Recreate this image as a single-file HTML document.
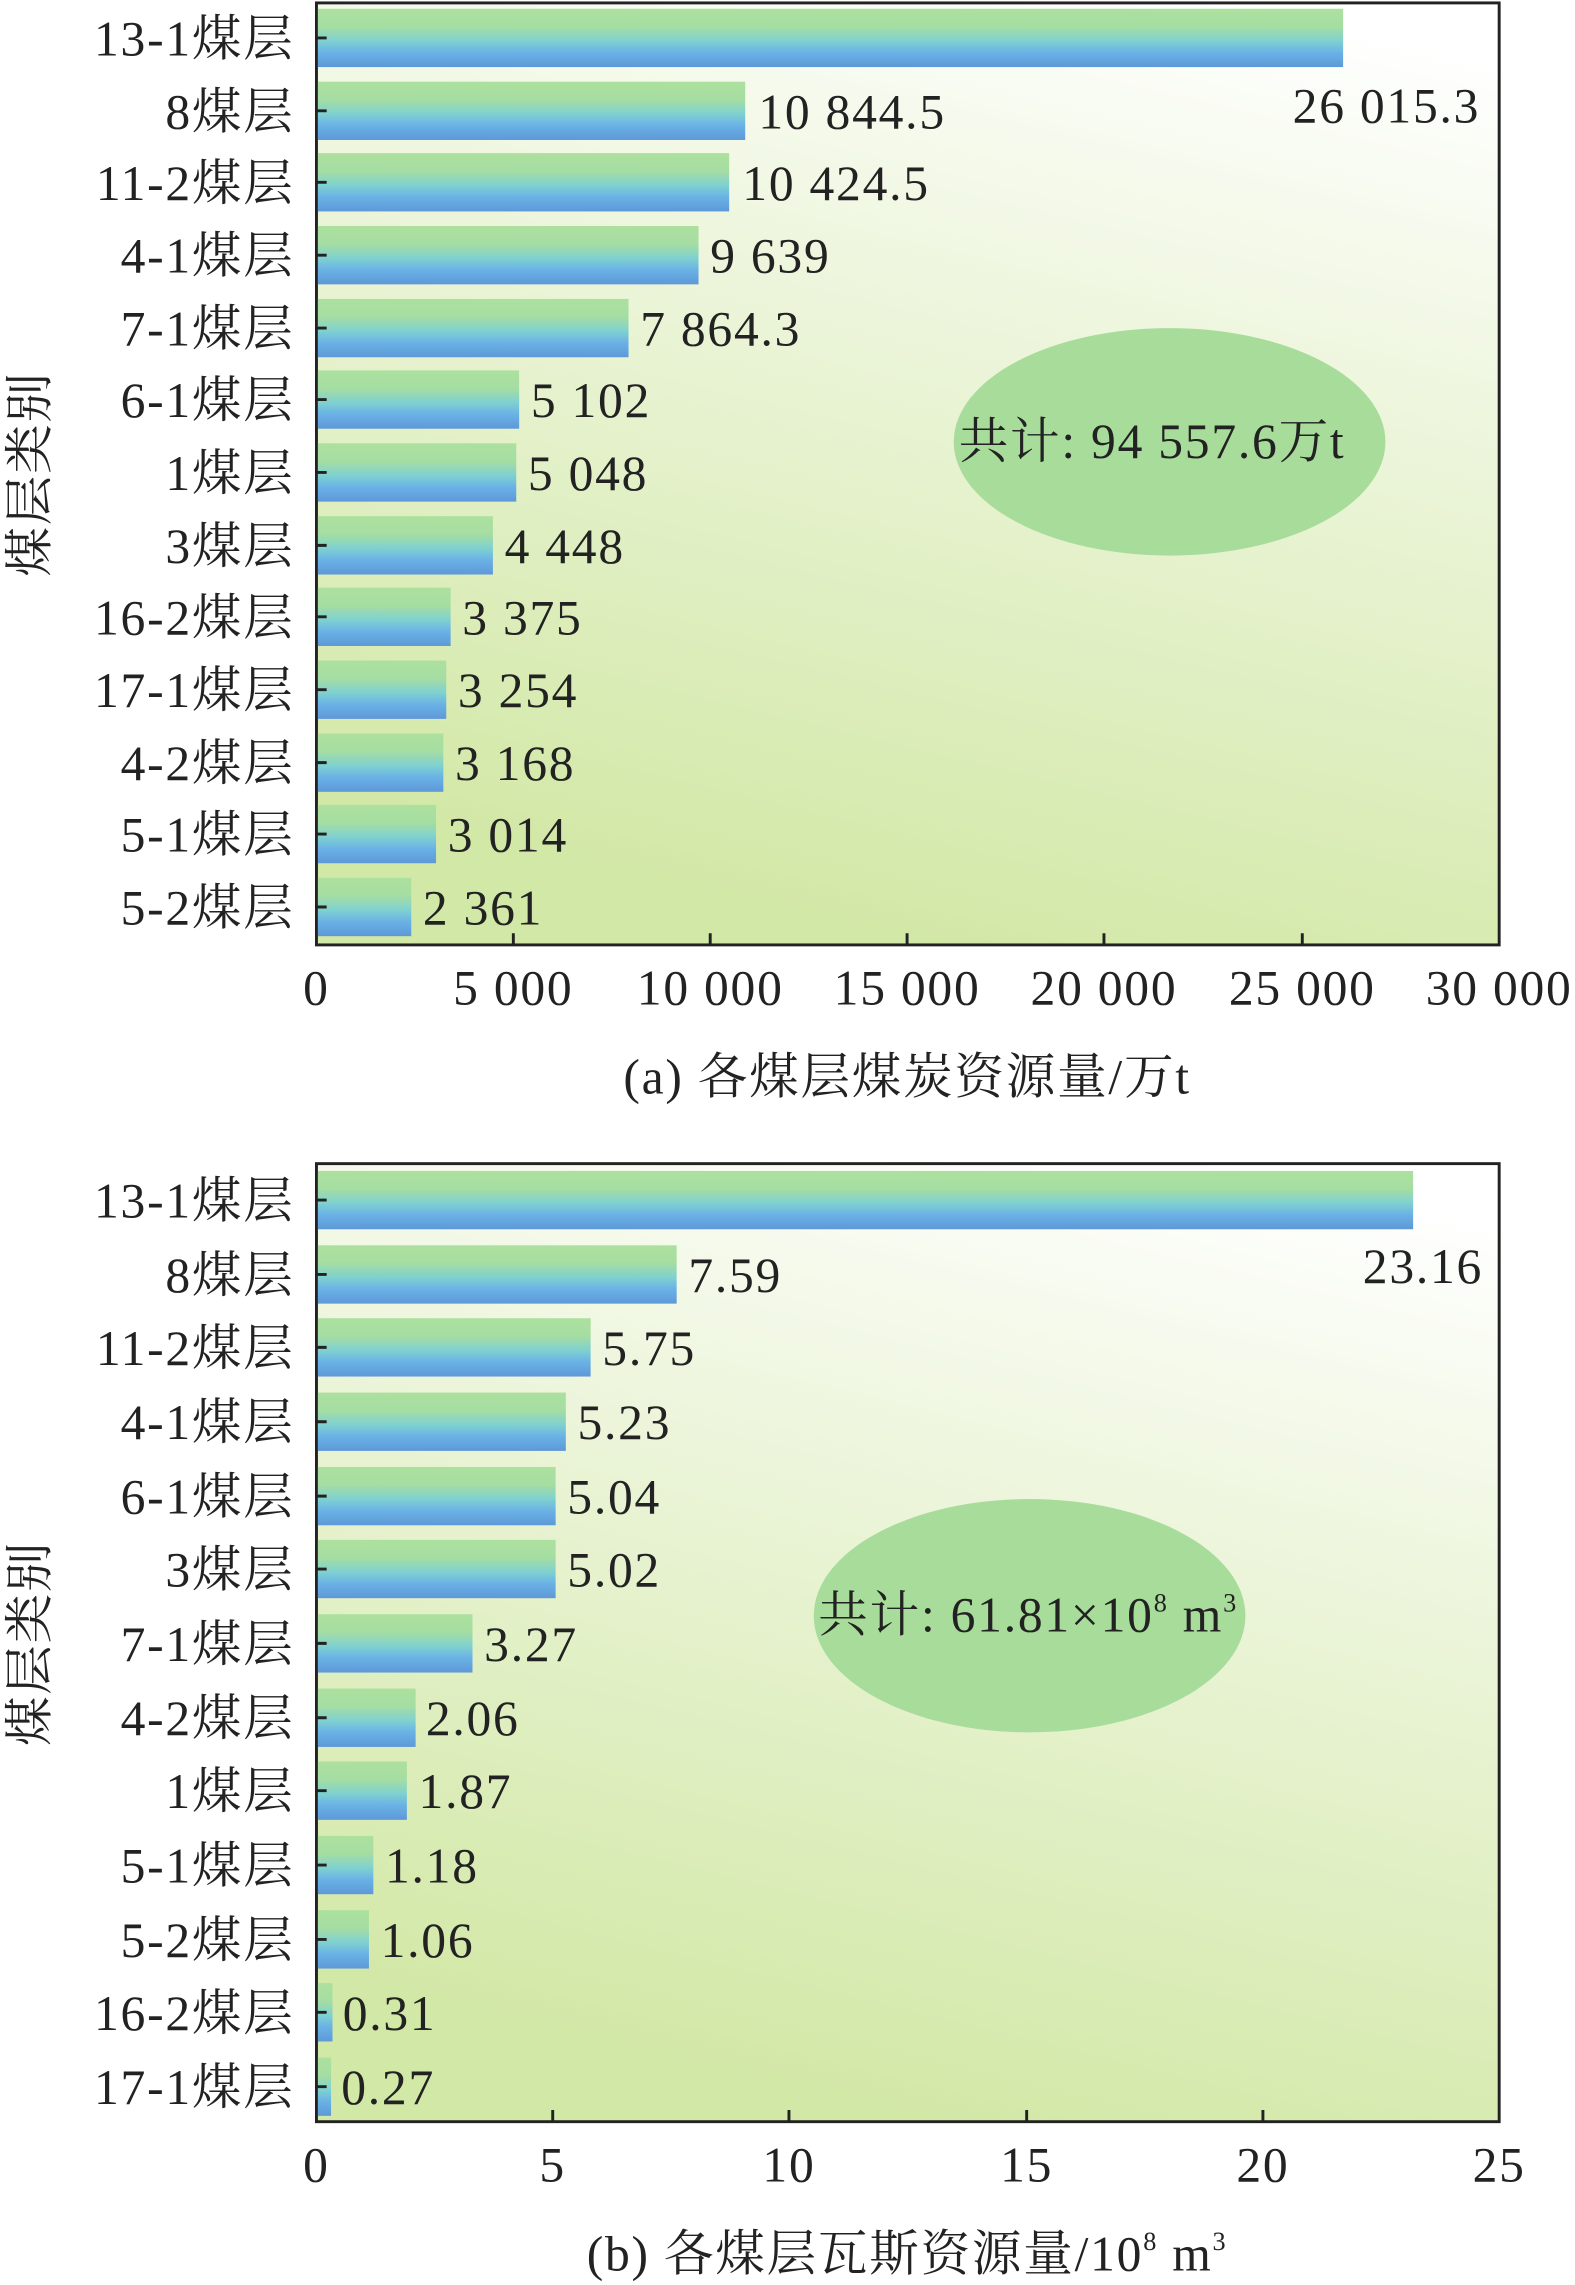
<!DOCTYPE html>
<html><head><meta charset="utf-8"><style>html,body{margin:0;padding:0;background:#fff}svg{display:block}</style></head><body>
<svg width="1575" height="2285" viewBox="0 0 1080 1567" preserveAspectRatio="none" xmlns="http://www.w3.org/2000/svg" font-family="'Liberation Serif','Noto Serif CJK SC',serif" fill="#222" letter-spacing="1.2">
<defs>
<linearGradient id="bar" x1="0" y1="0" x2="0" y2="1">
<stop offset="0" stop-color="#ace09e"/><stop offset="0.3" stop-color="#a6dea2"/><stop offset="0.55" stop-color="#7fd1d0"/><stop offset="0.75" stop-color="#6ab2e6"/><stop offset="1" stop-color="#5e98d8"/></linearGradient>
<linearGradient id="bg" x1="0.8" y1="0" x2="0.5" y2="1">
<stop offset="0" stop-color="#ffffff"/><stop offset="0.35" stop-color="#eef6de"/><stop offset="1" stop-color="#d2e8a6"/></linearGradient>
</defs>
<g id="a">
<rect x="217" y="2" width="811" height="646" fill="url(#bg)" stroke="#222" stroke-width="2"/>
<ellipse cx="802" cy="303" rx="148" ry="78" fill="#a8dc9a"/>
<text x="790" y="314" font-size="34" text-anchor="middle">共计: 94 557.6万t</text>
<g font-size="34">
<rect x="218" y="6" width="703" height="40" fill="url(#bar)"/><text x="1015" y="84" text-anchor="end">26 015.3</text><text x="202" y="38" text-anchor="end">13-1煤层</text>
<rect x="218" y="56" width="293" height="40" fill="url(#bar)"/><text x="520" y="88">10 844.5</text><text x="202" y="88" text-anchor="end">8煤层</text>
<rect x="218" y="105" width="282" height="40" fill="url(#bar)"/><text x="509" y="137">10 424.5</text><text x="202" y="137" text-anchor="end">11-2煤层</text>
<rect x="218" y="155" width="261" height="40" fill="url(#bar)"/><text x="487" y="187">9 639</text><text x="202" y="187" text-anchor="end">4-1煤层</text>
<rect x="218" y="205" width="213" height="40" fill="url(#bar)"/><text x="439" y="237">7 864.3</text><text x="202" y="237" text-anchor="end">7-1煤层</text>
<rect x="218" y="254" width="138" height="40" fill="url(#bar)"/><text x="364" y="286">5 102</text><text x="202" y="286" text-anchor="end">6-1煤层</text>
<rect x="218" y="304" width="136" height="40" fill="url(#bar)"/><text x="362" y="336">5 048</text><text x="202" y="336" text-anchor="end">1煤层</text>
<rect x="218" y="354" width="120" height="40" fill="url(#bar)"/><text x="346" y="386">4 448</text><text x="202" y="386" text-anchor="end">3煤层</text>
<rect x="218" y="403" width="91" height="40" fill="url(#bar)"/><text x="317" y="435">3 375</text><text x="202" y="435" text-anchor="end">16-2煤层</text>
<rect x="218" y="453" width="88" height="40" fill="url(#bar)"/><text x="314" y="485">3 254</text><text x="202" y="485" text-anchor="end">17-1煤层</text>
<rect x="218" y="503" width="86" height="40" fill="url(#bar)"/><text x="312" y="535">3 168</text><text x="202" y="535" text-anchor="end">4-2煤层</text>
<rect x="218" y="552" width="81" height="40" fill="url(#bar)"/><text x="307" y="584">3 014</text><text x="202" y="584" text-anchor="end">5-1煤层</text>
<rect x="218" y="602" width="64" height="40" fill="url(#bar)"/><text x="290" y="634">2 361</text><text x="202" y="634" text-anchor="end">5-2煤层</text>
</g>
<g stroke="#222" stroke-width="2">
<path d="M217 26h7M217 76h7M217 125h7M217 175h7M217 225h7M217 274h7M217 324h7M217 374h7M217 423h7M217 473h7M217 523h7M217 572h7M217 622h7"/>
<path d="M352 648v-8M487 648v-8M622 648v-8M757 648v-8M893 648v-8"/>
</g>
<g font-size="34" text-anchor="middle">
<text x="217" y="689">0</text><text x="352" y="689">5 000</text><text x="487" y="689">10 000</text><text x="622" y="689">15 000</text><text x="757" y="689">20 000</text><text x="893" y="689">25 000</text><text x="1028" y="689">30 000</text>
<text x="622" y="750">(a) 各煤层煤炭资源量/万t</text>
</g>
<text transform="translate(32,325) rotate(-90)" font-size="34" text-anchor="middle">煤层类别</text>
</g>
<g id="b">
<rect x="217" y="798" width="811" height="657" fill="url(#bg)" stroke="#222" stroke-width="2"/>
<ellipse cx="706" cy="1108" rx="148" ry="80" fill="#a8dc9a"/>
<text x="705" y="1119" font-size="34" text-anchor="middle">共计: 61.81×10<tspan font-size="18" dy="-14">8</tspan><tspan dy="14"> m</tspan><tspan font-size="18" dy="-14">3</tspan></text>
<g font-size="34">
<rect x="218" y="803" width="751" height="40" fill="url(#bar)"/><text x="1017" y="880" text-anchor="end">23.16</text><text x="202" y="835" text-anchor="end">13-1煤层</text>
<rect x="218" y="854" width="246" height="40" fill="url(#bar)"/><text x="472" y="886">7.59</text><text x="202" y="886" text-anchor="end">8煤层</text>
<rect x="218" y="904" width="187" height="40" fill="url(#bar)"/><text x="413" y="936">5.75</text><text x="202" y="936" text-anchor="end">11-2煤层</text>
<rect x="218" y="955" width="170" height="40" fill="url(#bar)"/><text x="396" y="987">5.23</text><text x="202" y="987" text-anchor="end">4-1煤层</text>
<rect x="218" y="1006" width="163" height="40" fill="url(#bar)"/><text x="389" y="1038">5.04</text><text x="202" y="1038" text-anchor="end">6-1煤层</text>
<rect x="218" y="1056" width="163" height="40" fill="url(#bar)"/><text x="389" y="1088">5.02</text><text x="202" y="1088" text-anchor="end">3煤层</text>
<rect x="218" y="1107" width="106" height="40" fill="url(#bar)"/><text x="332" y="1139">3.27</text><text x="202" y="1139" text-anchor="end">7-1煤层</text>
<rect x="218" y="1158" width="67" height="40" fill="url(#bar)"/><text x="292" y="1190">2.06</text><text x="202" y="1190" text-anchor="end">4-2煤层</text>
<rect x="218" y="1208" width="61" height="40" fill="url(#bar)"/><text x="287" y="1240">1.87</text><text x="202" y="1240" text-anchor="end">1煤层</text>
<rect x="218" y="1259" width="38" height="40" fill="url(#bar)"/><text x="264" y="1291">1.18</text><text x="202" y="1291" text-anchor="end">5-1煤层</text>
<rect x="218" y="1310" width="35" height="40" fill="url(#bar)"/><text x="261" y="1342">1.06</text><text x="202" y="1342" text-anchor="end">5-2煤层</text>
<rect x="218" y="1360" width="10" height="40" fill="url(#bar)"/><text x="235" y="1392">0.31</text><text x="202" y="1392" text-anchor="end">16-2煤层</text>
<rect x="218" y="1411" width="9" height="40" fill="url(#bar)"/><text x="234" y="1443">0.27</text><text x="202" y="1443" text-anchor="end">17-1煤层</text>
</g>
<g stroke="#222" stroke-width="2">
<path d="M217 823h7M217 874h7M217 924h7M217 975h7M217 1026h7M217 1076h7M217 1127h7M217 1178h7M217 1228h7M217 1279h7M217 1330h7M217 1380h7M217 1431h7"/>
<path d="M379 1455v-8M541 1455v-8M704 1455v-8M866 1455v-8"/>
</g>
<g font-size="34" text-anchor="middle">
<text x="217" y="1496">0</text><text x="379" y="1496">5</text><text x="541" y="1496">10</text><text x="704" y="1496">15</text><text x="866" y="1496">20</text><text x="1028" y="1496">25</text>
<text x="622" y="1557">(b) 各煤层瓦斯资源量/10<tspan font-size="18" dy="-14">8</tspan><tspan dy="14"> m</tspan><tspan font-size="18" dy="-14">3</tspan></text>
</g>
<text transform="translate(32,1127) rotate(-90)" font-size="34" text-anchor="middle">煤层类别</text>
</g>
</svg>
</body></html>
